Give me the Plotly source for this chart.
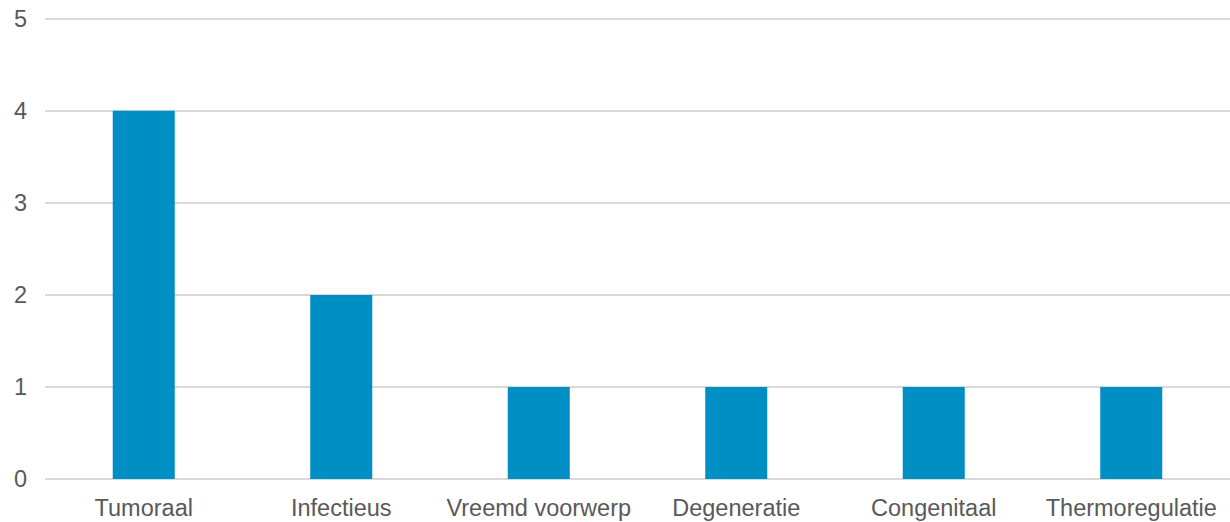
import plotly.graph_objects as go

categories = ["Tumoraal", "Infectieus", "Vreemd voorwerp", "Degeneratie", "Congenitaal", "Thermoregulatie"]
counts = [4, 2, 1, 1, 1, 1]
y_ticks = [0, 1, 2, 3, 4, 5]

fig = go.Figure(
    go.Bar(
        x=categories,
        y=counts,
        marker=dict(color="#008FC4", line=dict(width=0)),
        hoverinfo="x+y",
    )
)

font_color = "#595959"
grid_color = "#D9D9D9"

fig.update_layout(
    width=1230,
    height=522,
    margin=dict(l=45, r=0, t=17, b=43),
    paper_bgcolor="white",
    plot_bgcolor="white",
    bargap=0.686,
    showlegend=False,
    font=dict(family="Liberation Sans, Arial, sans-serif", size=23.5, color=font_color),
)

fig.update_xaxes(
    showgrid=False,
    showline=False,
    ticks="",
    ticklabelstandoff=12,
    tickfont=dict(size=23.5, color=font_color),
)

# a little headroom above 5 keeps the top gridline visible
fig.update_yaxes(
    range=[0, 5.02],
    tickvals=y_ticks,
    showgrid=True,
    gridcolor=grid_color,
    gridwidth=1.5,
    zeroline=True,
    zerolinecolor=grid_color,
    zerolinewidth=1.5,
    showline=False,
    ticks="",
    ticklabelstandoff=17,
    tickfont=dict(size=23.5, color=font_color),
)

fig.write_html("out.html")
